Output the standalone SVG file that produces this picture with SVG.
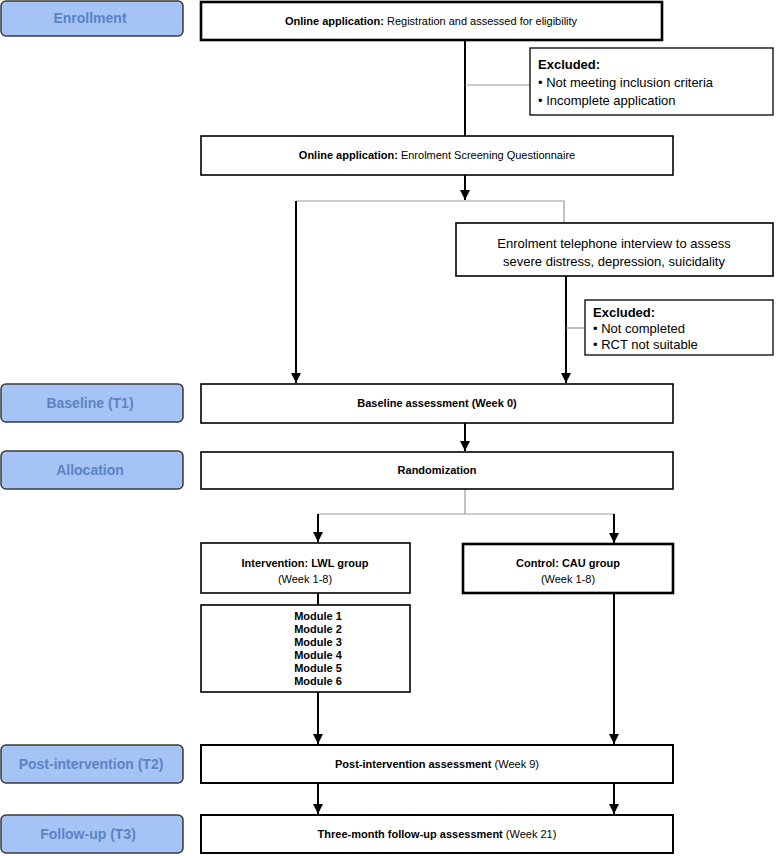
<svg xmlns="http://www.w3.org/2000/svg" width="777" height="856" viewBox="0 0 777 856">
<defs>
<marker id="ah" viewBox="0 0 10 10" refX="10" refY="5" markerWidth="5" markerHeight="5" markerUnits="strokeWidth" orient="auto">
<path d="M0,0 L10,5 L0,10 z" fill="#000"/>
</marker>
<style>
.lab{fill:#a6c3f5;stroke:#3a3a3a;stroke-width:1.5}
.labt{font-family:"Liberation Sans",Arial,sans-serif;font-weight:bold;font-size:14px;fill:#5b84c4;text-anchor:middle}
.box{fill:#fff;stroke:#000;stroke-width:1.6}
.thick{stroke-width:2.6}
.t{font-family:"Liberation Sans",Arial,sans-serif;font-size:11px;fill:#000;text-anchor:middle}
.tl{font-family:"Liberation Sans",Arial,sans-serif;font-size:13px;fill:#000}
.b{font-weight:bold}
.ln{fill:none;stroke:#000;stroke-width:2}
.gl{fill:none;stroke:#999;stroke-width:1.2}
</style>
</defs>

<g id="label-enrollment"><rect class="lab" x="1" y="1" width="182" height="35" rx="5"/><text class="labt" x="90" y="23">Enrollment</text></g>
<g id="label-baseline"><rect class="lab" x="1" y="384" width="182" height="38" rx="5"/><text class="labt" x="90" y="408">Baseline (T1)</text></g>
<g id="label-allocation"><rect class="lab" x="1" y="451" width="182" height="38" rx="5"/><text class="labt" x="90" y="475">Allocation</text></g>
<g id="label-post"><rect class="lab" x="1" y="745" width="182" height="38" rx="5"/><text class="labt" x="91" y="769">Post-intervention (T2)</text></g>
<g id="label-follow"><rect class="lab" x="1" y="815" width="182" height="38" rx="5"/><text class="labt" x="88" y="839">Follow-up (T3)</text></g>

<g id="connectors">
<line class="ln" x1="465" y1="40" x2="465" y2="136"/>
<line class="gl" x1="465" y1="85" x2="530" y2="85"/>
<line class="ln" x1="465" y1="175" x2="465" y2="200" marker-end="url(#ah)"/>
<polyline class="gl" points="296,201 564,201 564,223"/>
<line class="ln" x1="296" y1="201" x2="296" y2="383" marker-end="url(#ah)"/>
<line class="ln" x1="566" y1="276" x2="566" y2="383" marker-end="url(#ah)"/>
<line class="gl" x1="566" y1="328" x2="585" y2="328"/>
<line class="ln" x1="465" y1="423" x2="465" y2="451" marker-end="url(#ah)"/>
<line class="gl" x1="465" y1="489" x2="465" y2="514"/>
<line class="gl" x1="318" y1="514" x2="614" y2="514"/>
<line class="ln" x1="318" y1="514" x2="318" y2="542" marker-end="url(#ah)"/>
<line class="ln" x1="614" y1="514" x2="614" y2="543" marker-end="url(#ah)"/>
<line class="ln" x1="318" y1="593" x2="318" y2="605"/>
<line class="ln" x1="318" y1="692" x2="318" y2="744" marker-end="url(#ah)"/>
<line class="ln" x1="614" y1="593" x2="614" y2="744" marker-end="url(#ah)"/>
<line class="ln" x1="318" y1="783" x2="318" y2="814" marker-end="url(#ah)"/>
<line class="ln" x1="614" y1="783" x2="614" y2="814" marker-end="url(#ah)"/>
</g>

<g id="registration"><rect class="box thick" x="201" y="2" width="461" height="38"/><text class="t" x="431" y="25"><tspan class="b">Online application:</tspan> Registration and assessed for eligibility</text></g>
<g id="excluded1"><rect class="box" x="530" y="48" width="243" height="67" style="stroke-width:1.3"/><text class="tl" x="538" y="69"><tspan class="b">Excluded:</tspan><tspan x="538" dy="18">•  Not meeting inclusion criteria</tspan><tspan x="538" dy="18">•  Incomplete application</tspan></text></g>
<g id="screening"><rect class="box" x="201" y="136" width="472" height="39"/><text class="t" x="437" y="159"><tspan class="b">Online application:</tspan> Enrolment Screening Questionnaire</text></g>
<g id="telephone"><rect class="box" x="456" y="223" width="317" height="53"/><text class="tl" x="614" y="248" text-anchor="middle">Enrolment telephone interview to assess<tspan x="614" dy="18">severe distress, depression, suicidality</tspan></text></g>
<g id="excluded2"><rect class="box" x="585" y="300" width="188" height="55" style="stroke-width:1.3"/><text class="tl" x="593" y="317"><tspan class="b">Excluded:</tspan><tspan x="593" dy="16">•  Not completed</tspan><tspan x="593" dy="16">•  RCT not suitable</tspan></text></g>
<g id="baseline"><rect class="box" x="201" y="384" width="472" height="39"/><text class="t b" x="437" y="407">Baseline assessment (Week 0)</text></g>
<g id="randomization"><rect class="box" x="201" y="452" width="472" height="37"/><text class="t b" x="437" y="474">Randomization</text></g>
<g id="intervention"><rect class="box" x="201" y="543" width="209" height="50"/><text class="t" x="305" y="567"><tspan class="b">Intervention: LWL group</tspan><tspan x="305" dy="16">(Week 1-8)</tspan></text></g>
<g id="control"><rect class="box thick" x="463" y="544" width="210" height="49"/><text class="t" x="568" y="567"><tspan class="b">Control: CAU group</tspan><tspan x="568" dy="16">(Week 1-8)</tspan></text></g>
<g id="modules"><rect class="box" x="201" y="605" width="209" height="87"/><text class="t b" x="318" y="620">Module 1<tspan x="318" dy="13">Module 2</tspan><tspan x="318" dy="13">Module 3</tspan><tspan x="318" dy="13">Module 4</tspan><tspan x="318" dy="13">Module 5</tspan><tspan x="318" dy="13">Module 6</tspan></text></g>
<g id="post"><rect class="box" x="201" y="745" width="472" height="38" style="stroke-width:2"/><text class="t" x="437" y="768"><tspan class="b">Post-intervention assessment</tspan> (Week 9)</text></g>
<g id="followup"><rect class="box" x="201" y="815" width="472" height="38" style="stroke-width:2"/><text class="t" x="437" y="838"><tspan class="b">Three-month follow-up assessment</tspan> (Week 21)</text></g>
</svg>
